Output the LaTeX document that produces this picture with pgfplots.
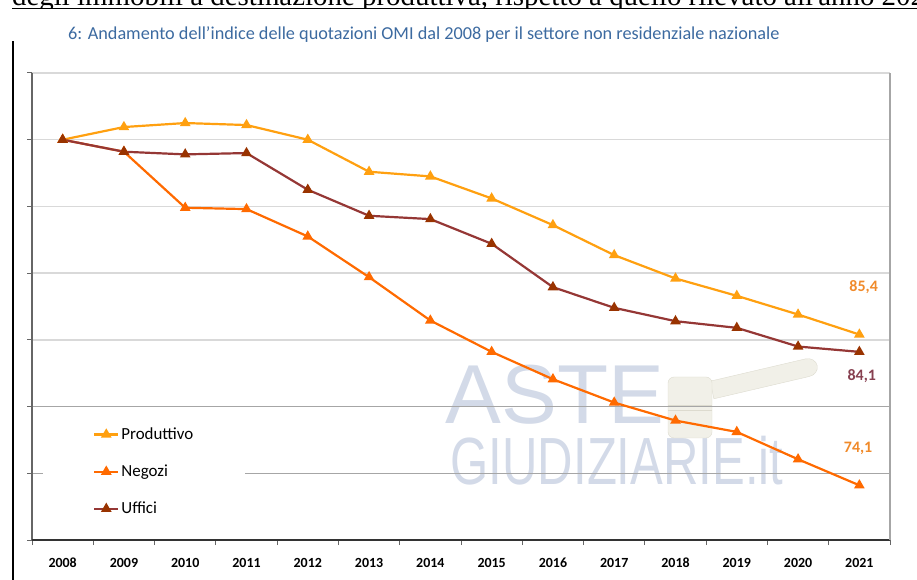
\documentclass[border=0pt]{standalone}
\usepackage{fontspec}
\setmainfont{Carlito}
\newfontfamily\docfont{Liberation Serif}
\newfontfamily\wmfont{Liberation Sans}
\usepackage{pgfplots}
\pgfplotsset{compat=1.18}
\definecolor{prodcol}{HTML}{FFA010}
\definecolor{negcol}{HTML}{FF6A00}
\definecolor{uffcol}{HTML}{953735}
\definecolor{uffmark}{HTML}{993300}
\definecolor{titlecol}{HTML}{3C6AA0}
\definecolor{wmcol}{HTML}{D3DAE8}
\definecolor{gavel}{HTML}{F1F0E8}
\definecolor{gaveledge}{HTML}{DDDBCF}
\definecolor{gridlight}{HTML}{D9D9D9}
\definecolor{griddark}{HTML}{A6A6A6}
\definecolor{lab1}{HTML}{F08A2A}
\definecolor{lab2}{HTML}{874050}

\begin{document}
\begin{tikzpicture}
\useasboundingbox (0bp,0bp) rectangle (917bp,580bp);
% page text cut off at the top
\begin{scope}
\clip (0bp,571bp) rectangle (917bp,580bp);
\node[anchor=base west, inner sep=0, font=\docfont\fontsize{29}{32}\selectfont] at (12bp,574bp)
  {degli immobili a destinazione produttiva, rispetto a quello rilevato all'anno 2021};
\end{scope}
\draw[black, line width=1.6bp] (12bp,571.5bp) -- (917bp,571.5bp);
\draw[black, line width=2bp] (13bp,0bp) -- (13bp,539bp);
\node[anchor=base west, inner sep=0, text=titlecol, font=\fontsize{18.3}{20}\selectfont] at (68bp,540bp)
  {6: Andamento dell'indice delle quotazioni OMI dal 2008 per il settore non residenziale nazionale};
% watermark
\node[text=wmcol, inner sep=0, font=\wmfont\fontsize{84}{84}\selectfont] at (555bp,185bp) {ASTE};
\node[text=wmcol, inner sep=0, xscale=0.735, font=\wmfont\fontsize{67}{67}\selectfont] at (617bp,119bp) {GIUDIZIARIE.it};
% gavel of the watermark
\draw[gaveledge, fill=gavel, rotate around={12:(712bp,190bp)}]
  (712bp,181bp) -- (810bp,183bp) arc[start angle=-90, end angle=90, x radius=10bp, y radius=9bp]
  -- (712bp,199bp) -- cycle;
\draw[gaveledge, fill=gavel, rounded corners=6bp] (668bp,142bp) rectangle (712bp,203bp);
\draw[gaveledge] (668bp,175bp) -- (712bp,175bp);
\draw[gaveledge] (668bp,170bp) -- (712bp,170bp);

\begin{axis}[
    scale only axis,
    width=858bp, height=467bp,
    at={(32bp,40bp)}, anchor=south west,
    xmin=-0.5, xmax=13.5,
    ymin=70, ymax=105,
    xtick={0,...,13},
    xticklabels={2008,2009,2010,2011,2012,2013,2014,2015,2016,2017,2018,2019,2020,2021},
    major x tick style={draw=none},
    minor xtick={-0.5,0.5,...,13.5},
    xtick pos=lower, ytick pos=left,
    ytick={70,75,...,105},
    yticklabels={},
    tick align=outside,
    major tick length=5bp, minor tick length=5bp,
    tick style={draw=gray!80!black, line width=1bp},
    ymajorgrids,
    grid style={draw=gridlight, line width=1.5bp},
    axis line style={draw=none},
    xticklabel style={font=\bfseries\fontsize{14}{14}\selectfont, text height=10bp, text depth=0bp, yshift=-9bp},
    legend style={at={(axis description cs:0.0128,0.262)}, anchor=north west,
        draw=none, fill=white, inner xsep=50bp, inner ysep=8bp, row sep=20bp,
        font=\fontsize{17}{19}\selectfont},
    legend cell align=left,
    legend image code/.code={
        \draw[mark repeat=2, mark phase=2] plot coordinates {(0bp,0bp) (12bp,0bp) (24bp,0bp)};},
    clip=false,
]
\draw[griddark, line width=0.8bp] (axis cs:-0.5,80) -- (axis cs:13.5,80);
\draw[griddark, line width=0.8bp] (axis cs:-0.5,75) -- (axis cs:13.5,75);
\draw[gray!80!black, line width=1.3bp] (rel axis cs:0,0) -- (rel axis cs:0,1);
\draw[gray!40!black, line width=1.3bp] (rel axis cs:0,0) -- (rel axis cs:1,0);
\draw[gray!70, line width=1.2bp] (rel axis cs:1,0) -- (rel axis cs:1,1);

\addplot[color=prodcol, line width=2.2bp, mark=triangle*, mark size=4bp] coordinates {
 (0,100) (1,100.95) (2,101.25) (3,101.1) (4,100.0) (5,97.6) (6,97.25)
 (7,95.6) (8,93.6) (9,91.35) (10,89.6) (11,88.3) (12,86.9) (13,85.4)};
\addlegendentry{Produttivo}
\addplot[color=negcol, line width=2.2bp, mark=triangle*, mark size=4bp] coordinates {
 (0,100) (1,99.1) (2,94.9) (3,94.8) (4,92.75) (5,89.7) (6,86.45)
 (7,84.1) (8,82.05) (9,80.3) (10,78.95) (11,78.1) (12,76.05) (13,74.1)};
\addlegendentry{Negozi}
\addplot[color=uffcol, line width=2.2bp, mark=triangle*, mark size=4bp,
    mark options={fill=uffmark, draw=uffmark}] coordinates {
 (0,100) (1,99.1) (2,98.9) (3,99.0) (4,96.25) (5,94.3) (6,94.05)
 (7,92.2) (8,88.95) (9,87.4) (10,86.4) (11,85.9) (12,84.5) (13,84.1)};
\addlegendentry{Uffici}

\node[text=lab1, font=\bfseries\fontsize{16}{16}\selectfont] at (axis cs:13.07,88.96) {85,4};
\node[text=lab2, font=\bfseries\fontsize{16}{16}\selectfont] at (axis cs:13.04,82.29) {84,1};
\node[text=lab1, font=\bfseries\fontsize{16}{16}\selectfont] at (axis cs:12.98,76.9) {74,1};
\end{axis}
\end{tikzpicture}
\end{document}
